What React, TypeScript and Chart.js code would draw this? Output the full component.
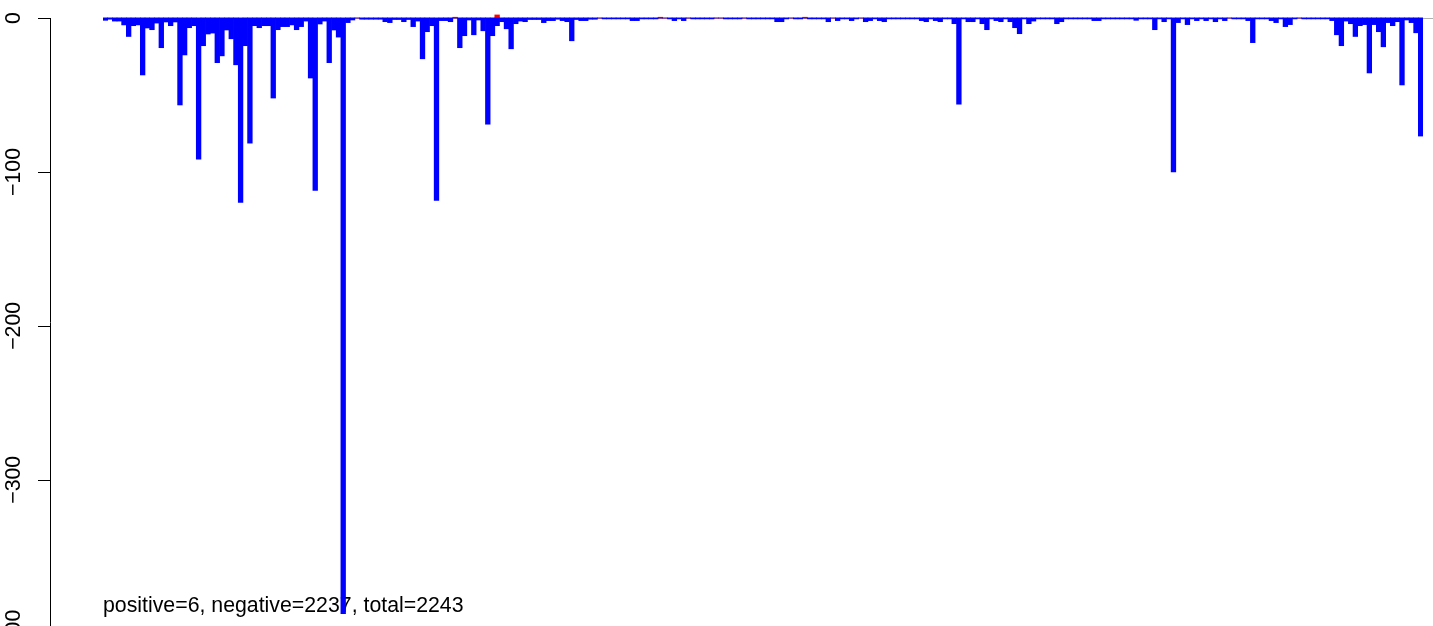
import React, { useEffect, useRef } from "react";
import { Chart, registerables } from "chart.js";

Chart.register(...registerables);

// Negative part of each bar (blue), one value per bar position
const negativeValues: number[] = [
  -1.5, -0.8, -2, -2, -4.5, -12, -5, -4.5, -37, -6.5,
  -7.6, -3.3, -19.3, -2.6, -5, -2.6, -56.5, -24, -6.3, -5,
  -91.7, -18, -10.4, -9.8, -29, -24.6, -7.8, -13.5, -30.4, -119.8,
  -18, -81.3, -5, -6.3, -5, -5, -52, -7.6, -5.6, -5.6,
  -4.5, -7.6, -5.6, -2, -39, -112, -3.9, -2, -29, -7.8,
  -12.4, -387, -3, -1.3, 0, -0.8, -0.8, -0.8, -0.8, -0.8,
  -2.4, -3, -1, -1, -2.4, -1, -5.6, -2, -26.5, -8.9,
  -5, -118.5, -1.7, -1.7, -2.4, 0, -19.3, -11.5, -1.3, -10.9,
  -1.3, -8.3, -69, -11.5, -5, -2.4, -7, -20, -3.7, -2,
  -2.4, -1, -1, -1, -3, -1.7, -1.7, -0.8, -1.7, -2.4,
  -14.8, -1, -1.7, -1.7, -0.8, -0.8, 0, -0.6, -0.6, -0.6,
  -0.6, -0.6, -0.6, -1.7, -1.7, -0.6, -0.6, -0.6, -0.6, 0,
  0, -0.6, -1.7, -0.6, -1.7, 0, -0.6, -0.6, -0.6, -0.6,
  -0.6, 0, 0, -0.6, -0.6, -0.6, -0.6, 0, -0.6, -0.6,
  -0.6, -0.6, -0.6, -0.6, -2.4, -2.4, -0.6, 0, -0.6, -0.6,
  0, -0.6, -0.6, -0.6, -0.6, -2.4, 0, -1.7, -0.6, -0.6,
  -1.7, -0.6, 0, -2.4, -1.7, -0.6, -1.7, -2.4, -0.6, -0.6,
  -0.6, -0.6, -0.6, -0.6, -0.6, -1.7, -2.4, -0.6, -1.7, -2.4,
  -0.6, -0.6, -3.7, -56, -0.6, -2.4, -2.4, -0.6, -3.7, -7.6,
  -0.6, -1.7, -2.4, -0.6, -2.4, -6.3, -10.2, -0.6, -3.7, -2,
  -0.6, -0.6, -0.6, -0.6, -3.7, -2.4, -0.6, -0.6, -0.6, -0.6,
  -0.6, -0.6, -1.7, -1.7, -0.6, -0.6, -0.6, -0.6, -0.6, -0.6,
  -0.6, -1.5, -0.6, -0.6, -0.6, -7.6, -0.6, -2.4, -0.6, -100,
  -3, -0.6, -4.3, -0.6, -1.7, -0.6, -1.7, -0.6, -2.4, -0.6,
  -1.7, 0, -0.6, -0.6, -0.6, -1.7, -16, -0.6, -0.6, -0.6,
  -1.7, -3, -0.6, -5.6, -4.3, -0.6, 0, -0.6, -0.6, -0.6,
  -0.6, -0.6, -0.6, -1.7, -10.9, -18, -2, -3.7, -12, -5,
  -4.3, -35.7, -4.3, -8.9, -18.7, -3, -5, -2.4, -43.5, -1.3,
  -3, -9.6, -76.7,
];

// Positive part of each bar (red)
const positiveIndex: number[] = [75, 84, 119, 150];
const positiveAmount: number[] = [0.5, 2, 0.5, 0.5];

const categories: string[] = negativeValues.map((_, i) => String(i + 1));
const positiveValues: number[] = categories.map((_, i) => {
  const k = positiveIndex.indexOf(i);
  return k >= 0 ? positiveAmount[k] : 0;
});

const yTicks: number[] = [0, -100, -200, -300, -400];
const yTickLabels: string[] = ["0", "\u2212100", "\u2212200", "\u2212300", "\u2212400"];
const summaryText = "positive=6, negative=2237, total=2243";

const FONT = '21.3px "Liberation Sans", Arial, Helvetica, sans-serif';

const overlayPlugin = {
  id: "rOverlay",
  beforeDatasetsDraw(chart: any) {
    const { ctx, chartArea, scales } = chart;
    const y = scales.y;
    ctx.save();
    // zero reference line
    const y0 = Math.round(y.getPixelForValue(0)) + 0.5;
    ctx.strokeStyle = "#b0b0b0";
    ctx.lineWidth = 1;
    ctx.beginPath();
    ctx.moveTo(chartArea.left, y0);
    ctx.lineTo(chart.width, y0);
    ctx.stroke();

    // summary text
    ctx.fillStyle = "#000000";
    ctx.font = FONT;
    ctx.textAlign = "left";
    ctx.textBaseline = "alphabetic";
    ctx.fillText(summaryText, chartArea.left, 611.5);

    // y axis (R style)
    const axisX = 50.5;
    ctx.strokeStyle = "#000000";
    ctx.lineWidth = 1;
    ctx.beginPath();
    ctx.moveTo(axisX, y.getPixelForValue(0));
    ctx.lineTo(axisX, y.getPixelForValue(-400));
    ctx.stroke();
    yTicks.forEach((t, i) => {
      const py = Math.round(y.getPixelForValue(t)) + 0.5;
      ctx.beginPath();
      ctx.moveTo(38, py);
      ctx.lineTo(axisX, py);
      ctx.stroke();
      ctx.save();
      ctx.translate(19.5, y.getPixelForValue(t));
      ctx.rotate(-Math.PI / 2);
      ctx.textAlign = "center";
      ctx.textBaseline = "alphabetic";
      ctx.fillText(yTickLabels[i], 0, 0);
      ctx.restore();
    });
    ctx.restore();
  },
};

export default function App() {
  const canvasRef = useRef<HTMLCanvasElement | null>(null);

  useEffect(() => {
    const canvas = canvasRef.current;
    if (!canvas) return;
    const chart = new Chart(canvas, {
      type: "bar",
      data: {
        labels: categories,
        datasets: [
          {
            label: "negative",
            data: negativeValues,
            backgroundColor: "#0000ff",
            borderWidth: 0,
            barPercentage: 1,
            categoryPercentage: 1,
            grouped: false,
          } as any,
          {
            label: "positive",
            data: positiveValues,
            backgroundColor: "#ff0000",
            borderWidth: 0,
            barPercentage: 1,
            categoryPercentage: 1,
            grouped: false,
          } as any,
        ],
      },
      options: {
        responsive: false,
        animation: false,
        devicePixelRatio: 1,
        layout: { padding: { left: 103, right: 10, top: 0, bottom: 0 } },
        plugins: {
          legend: { display: false },
          tooltip: { enabled: false },
        },
        scales: {
          x: { type: "category", display: false, offset: true, grid: { display: false } },
          y: { display: false, min: -395, max: 11.7, grid: { display: false } },
        },
      },
      plugins: [overlayPlugin],
    });
    return () => chart.destroy();
  }, []);

  return (
    <div style={{ position: "absolute", left: 0, top: 0, width: 1433, height: 626, background: "#ffffff" }}>
      <canvas ref={canvasRef} width={1433} height={626} style={{ display: "block" }} />
    </div>
  );
}
